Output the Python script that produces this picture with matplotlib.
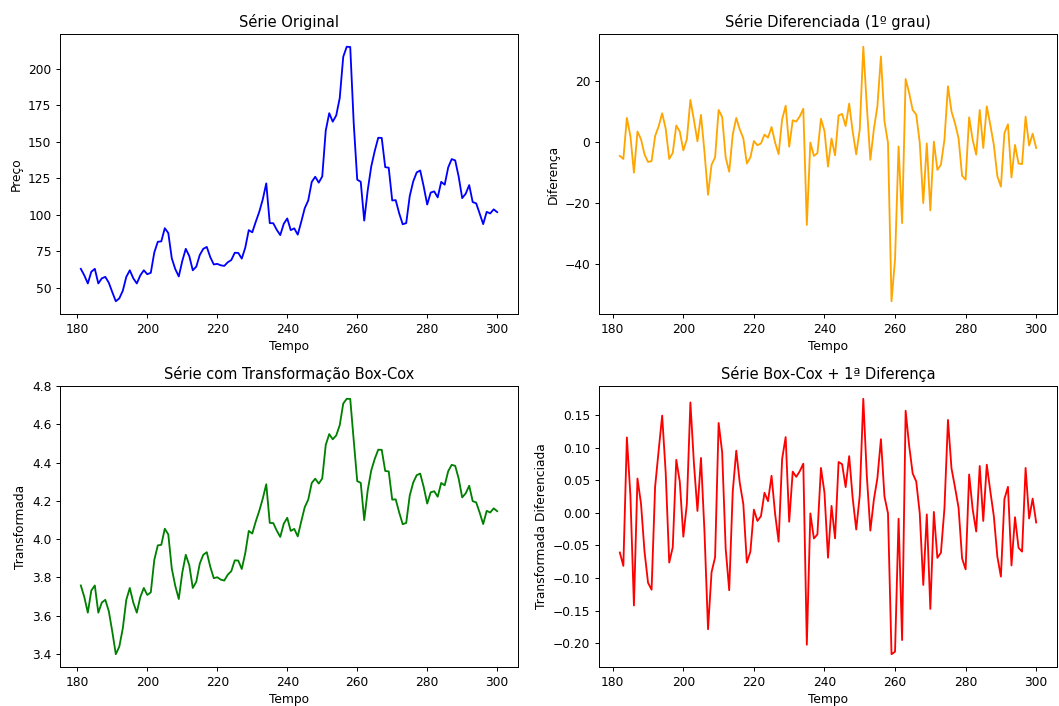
import numpy as np
import matplotlib.pyplot as plt

# Serie original (preco), t = 181..300
tempo = np.arange(181, 301)
preco = [63, 58.5, 53, 61, 63, 53, 56.5, 57.5, 53.5, 47,
         40.8, 42.8, 48, 57.5, 62, 56.5, 53, 58.5, 62, 59.3,
         60.3, 74.2, 81.5, 81.8, 90.8, 87.5, 70.2, 62.8, 57.8, 68.4,
         76.7, 71.7, 62, 64.5, 72.5, 76.7, 78, 71, 66, 66.4,
         65.4, 65, 67.5, 69, 74, 73.9, 70, 77.5, 89.5, 88,
         95.2, 102, 110.5, 121.5, 94.3, 94.2, 89.7, 86.1, 93.8, 97.5,
         89.5, 90.7, 86.4, 95.2, 104.5, 109.8, 122.5, 126, 122, 126.2,
         157.6, 169.5, 163.7, 168, 179.9, 208.1, 215, 214.8, 162.5, 124,
         122.6, 96, 116.8, 133, 143.6, 152.7, 152.6, 132.6, 132.2, 109.8,
         110.0, 100.9, 93.5, 94.3, 112.7, 122.8, 129.0, 130.3, 119.3, 107.0,
         115.2, 116.0, 111.9, 122.5, 120.6, 132.4, 138.1, 137.2, 126.0, 111.4,
         114.4, 120.3, 108.7, 107.8, 100.8, 93.6, 102.0, 100.9, 103.7, 101.8]

lam = -0.048  # lambda estimado do Box-Cox

serie = np.array(preco)
diff1 = np.diff(serie)
boxcox = (serie ** lam - 1) / lam
boxcox_diff = np.diff(boxcox)

DPI = 88
W, H = 1059, 706
fig = plt.figure(figsize=(W / DPI, H / DPI), dpi=DPI)

def eixo(x0, y0, x1, y1):
    return fig.add_axes([x0 / W, 1 - y1 / H, (x1 - x0) / W, (y1 - y0) / H])

ax1 = eixo(60, 34, 518, 314)
ax2 = eixo(599, 34, 1057, 314)
ax3 = eixo(60, 386, 518, 667)
ax4 = eixo(599, 386, 1057, 667)

ax1.plot(tempo, serie, color='blue')
ax1.set_title('Série Original')
ax1.set_xlabel('Tempo')
ax1.set_ylabel('Preço')

ax2.plot(tempo[1:], diff1, color='orange')
ax2.set_title('Série Diferenciada (1º grau)')
ax2.set_xlabel('Tempo')
ax2.set_ylabel('Diferença')

ax3.plot(tempo, boxcox, color='green')
ax3.set_title('Série com Transformação Box-Cox')
ax3.set_xlabel('Tempo')
ax3.set_ylabel('Transformada')

ax4.plot(tempo[1:], boxcox_diff, color='red')
ax4.set_title('Série Box-Cox + 1ª Diferença')
ax4.set_xlabel('Tempo')
ax4.set_ylabel('Transformada Diferenciada')

fig.savefig('out.png', dpi=DPI)
